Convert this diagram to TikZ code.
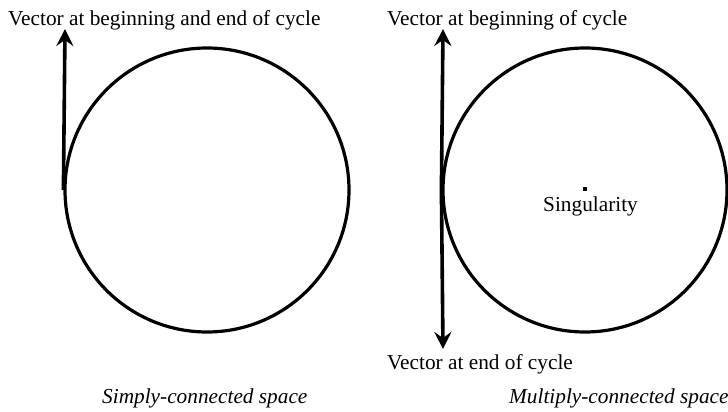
\documentclass[tikz,border=0pt]{standalone}
\usepackage{fontspec}
\setmainfont{Liberation Serif}
\usetikzlibrary{arrows.meta}
\begin{document}
\begin{tikzpicture}[
    x=1pt,y=1pt,
    loop/.style={circle,draw,line width=3.2pt,minimum size=284pt,inner sep=0pt},
    vec/.style={line width=3.6pt,-{Stealth[length=17pt,width=17pt,inset=6pt]}},
    label/.style={anchor=base west,inner sep=0pt,font=\fontsize{21.3}{25}\selectfont}
]
\useasboundingbox (0,0) rectangle (728,412);
\node[loop] (loopL) at (207,222) {};
\node[loop] (loopR) at (585,222) {};
\coordinate (tipL)   at (65,383);
\coordinate (tipRup) at (443,383);
\coordinate (tipRdn) at (443,63);

\draw[vec] (loopL.west) -- (tipL);
\draw[vec] (loopR.west) -- (tipRup);
\draw[vec] (loopR.west) -- (tipRdn);

\node[fill,minimum size=4pt,inner sep=0pt] (sing) at (585,223) {};

\node[label] (txtL)    at (8,386)   {Vector at beginning and end of cycle};
\node[label] (txtRup)  at (387,386) {Vector at beginning of cycle};
\node[label] (txtRdn)  at (387,42)  {Vector at end of cycle};
\node[label] (txtSing) at (543,200) {Singularity};
\node[label] (capL)    at (102,8)   {\itshape Simply-connected space};
\node[label] (capR)    at (509,8)   {\itshape Multiply-connected space};
\end{tikzpicture}
\end{document}
